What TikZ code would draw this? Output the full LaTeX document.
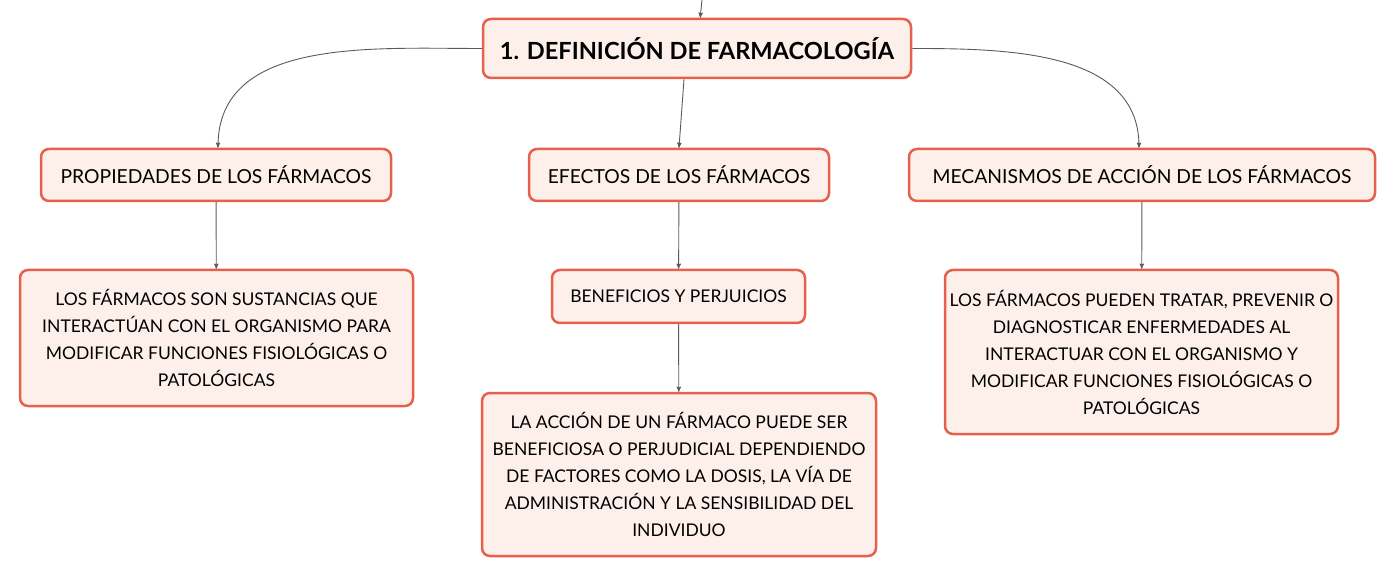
\documentclass[tikz,border=0pt]{standalone}
\usepackage{fontspec}
\setmainfont{Lato}
\usetikzlibrary{arrows,positioning}

\definecolor{boxfill}{HTML}{FDF0EA}
\definecolor{boxline}{HTML}{E6604B}
\definecolor{linkgray}{HTML}{5A5A5A}

\tikzset{
  concept/.style={draw=boxline,fill=boxfill,line width=2.5pt,rounded corners=8pt,
    align=center,inner sep=0pt,text=black},
  head/.style={concept,minimum height=52pt,font=\fontsize{19.3}{22}\selectfont},
  leaf/.style={concept,font=\fontsize{17.5}{27}\selectfont},
}

\begin{document}
\begin{tikzpicture}[x=1pt,y=1pt,->,>=stealth',shorten >=0pt,semithick,draw=linkgray]
 \useasboundingbox (0,0) rectangle (1395,-577);

 \node[concept,minimum width=428pt,minimum height=59pt,font=\fontsize{23.6}{28}\selectfont\bfseries]
      (title) at (697,-48.5) {1. DEFINICIÓN DE FARMACOLOGÍA};
 \coordinate (top) at (702,0);

 \node[head,minimum width=350pt] (prop) at (216,-175)  {PROPIEDADES DE LOS FÁRMACOS};
 \node[head,minimum width=300pt] (efec) at (679,-175)  {EFECTOS DE LOS FÁRMACOS};
 \node[head,minimum width=466pt] (meca) at (1142,-175) {MECANISMOS DE ACCIÓN DE LOS FÁRMACOS};

 \node[leaf,minimum width=393pt,minimum height=136pt] (sust) at (216.5,-338)
      {LOS FÁRMACOS SON SUSTANCIAS QUE\\INTERACTÚAN CON EL ORGANISMO PARA\\MODIFICAR FUNCIONES FISIOLÓGICAS O\\PATOLÓGICAS};
 \node[leaf,minimum width=253pt,minimum height=53pt] (bene) at (678.5,-296.5)
      {BENEFICIOS Y PERJUICIOS};
 \node[leaf,minimum width=394pt,minimum height=163pt] (acci) at (679,-474.5)
      {LA ACCIÓN DE UN FÁRMACO PUEDE SER\\BENEFICIOSA O PERJUDICIAL DEPENDIENDO\\DE FACTORES COMO LA DOSIS, LA VÍA DE\\ADMINISTRACIÓN Y LA SENSIBILIDAD DEL\\INDIVIDUO};
 \node[leaf,minimum width=393pt,minimum height=164pt] (trat) at (1141.5,-352)
      {LOS FÁRMACOS PUEDEN TRATAR, PREVENIR O\\DIAGNOSTICAR ENFERMEDADES AL\\INTERACTUAR CON EL ORGANISMO Y\\MODIFICAR FUNCIONES FISIOLÓGICAS O\\PATOLÓGICAS};

 \path[linkgray,line width=0.9pt]
       (top)  edge (title)
       (title.west) edge [out=180,in=90] ([xshift=2pt]prop.north)
       ([xshift=-13pt]title.south) edge (efec.north)
       (title.east) edge [out=0,in=90] ([xshift=-3pt]meca.north)
       (prop) edge (sust)
       (efec) edge (bene)
       (bene) edge (acci)
       (meca) edge (trat);
\end{tikzpicture}
\end{document}
